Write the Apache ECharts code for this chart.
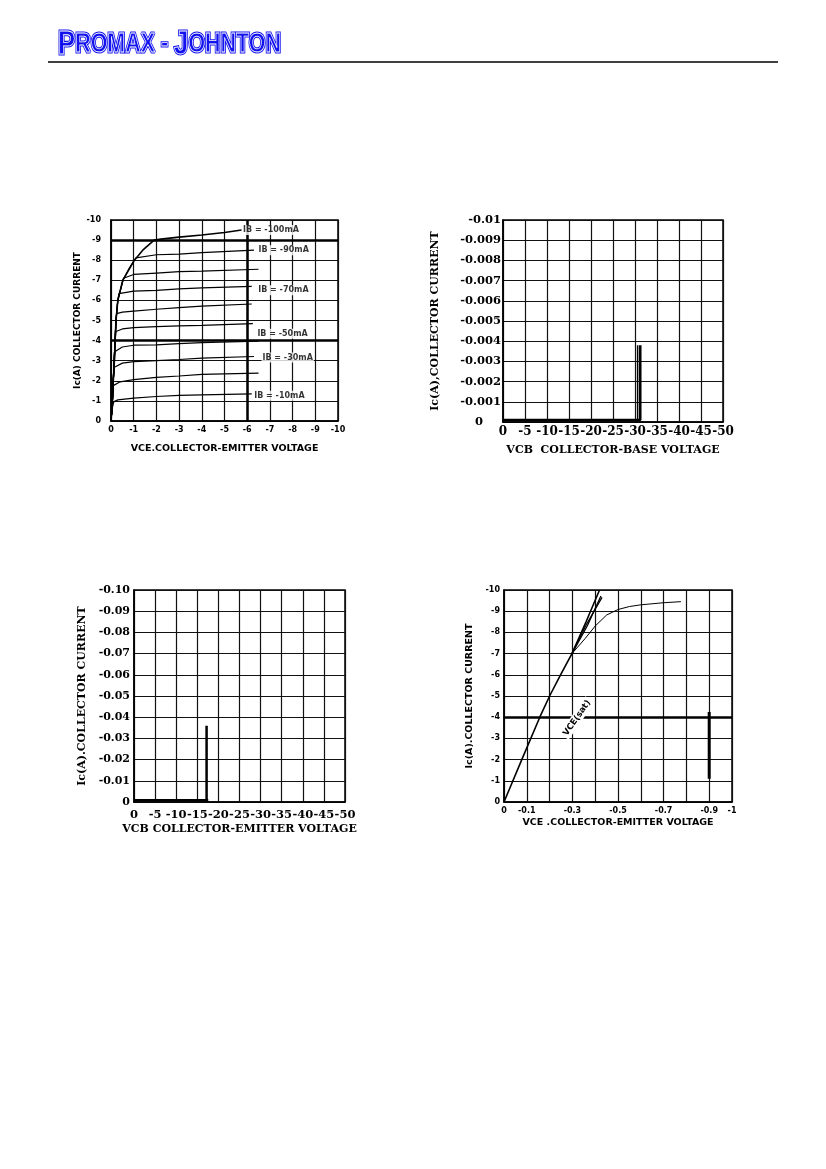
<!DOCTYPE html>
<html>
<head>
<meta charset="utf-8">
<script src="https://cdn.jsdelivr.net/npm/echarts@6/dist/echarts.min.js"></script>
<style>
  html, body { margin: 0; padding: 0; background: #fff; }
  #main { width: 826px; height: 1169px; }
</style>
</head>
<body>
<div id="main"></div>
<script>
/** 图1：输出特性 Ic - Vce，各 IB 曲线 */
const ibLabels = ['IB = -10mA', '', 'IB = -30mA', '', 'IB = -50mA', '', 'IB = -70mA', '', 'IB = -90mA', 'IB = -100mA']
const ib10 = [[0, 0], [-0.05, -0.6], [-0.12, -0.95], [-0.3, -1.05], [-1, -1.14], [-2, -1.22], [-3, -1.27], [-4, -1.3], [-6.2, -1.35]]
const ib20 = [[0, 0], [-0.05, -0.7], [-0.1, -1.76], [-0.4, -1.95], [-1, -2.06], [-2, -2.17], [-3, -2.24], [-4, -2.32], [-6.5, -2.38]]
const ib30 = [[0, 0], [-0.05, -0.7], [-0.1, -2], [-0.15, -2.67], [-0.5, -2.88], [-1, -2.95], [-2, -3.0], [-3, -3.06], [-4, -3.13], [-6.3, -3.21]]
const ib40 = [[0, 0], [-0.05, -0.7], [-0.1, -2], [-0.15, -3], [-0.18, -3.46], [-0.5, -3.68], [-1, -3.77], [-2, -3.79], [-3, -3.85], [-4, -3.9], [-6.5, -3.97]]
const ib50 = [[0, 0], [-0.05, -0.7], [-0.1, -2], [-0.18, -4], [-0.22, -4.45], [-0.5, -4.58], [-1, -4.65], [-2, -4.7], [-3, -4.73], [-4, -4.76], [-6.25, -4.84]]
const ib60 = [[0, 0], [-0.05, -0.7], [-0.1, -2], [-0.18, -4], [-0.22, -5], [-0.25, -5.34], [-0.5, -5.42], [-1, -5.47], [-2, -5.56], [-3, -5.64], [-4, -5.72], [-6.2, -5.82]]
const ib70 = [[0, 0], [-0.05, -0.7], [-0.1, -2], [-0.18, -4], [-0.22, -5], [-0.3, -6], [-0.35, -6.34], [-1, -6.46], [-2, -6.5], [-3, -6.57], [-4, -6.62], [-6.2, -6.7]]
const ib80 = [[0, 0], [-0.05, -0.7], [-0.1, -2], [-0.18, -4], [-0.22, -5], [-0.3, -6], [-0.55, -7.1], [-1, -7.29], [-2, -7.36], [-3, -7.43], [-4, -7.46], [-6.5, -7.55]]
const ib90 = [[0, 0], [-0.05, -0.7], [-0.1, -2], [-0.18, -4], [-0.22, -5], [-0.3, -6], [-0.52, -7], [-0.8, -7.6], [-1.1, -8.12], [-2, -8.27], [-3, -8.3], [-4, -8.38], [-6.3, -8.5]]
const ib100 = [[0, 0], [-0.05, -0.7], [-0.08, -1.5], [-0.1, -2], [-0.15, -3], [-0.18, -4], [-0.22, -5], [-0.3, -6], [-0.52, -7], [-1.03, -8], [-1.4, -8.5], [-1.9, -9], [-2.2, -9.05], [-3, -9.15], [-4, -9.25], [-5, -9.38], [-5.75, -9.5]]
const heavyY1 = [-9, -4]
const heavyX1 = [-6]
const xLabels1 = ['0', '-1', '-2', '-3', '-4', '-5', '-6', '-7', '-8', '-9', '-10']
const yLabels1 = ['0', '-1', '-2', '-3', '-4', '-5', '-6', '-7', '-8', '-9', '-10']

/** 图2：Icbo - Vcb */
const cbLow = [[0, -0.0001], [-31.2, -0.0001], [-31.2, -0.0038]]
const cbEdge = [[-30.6, -0.0001], [-30.6, -0.0038]]
const xLabels2 = ['0', '-5', '-10', '-15', '-20', '-25', '-30', '-35', '-40', '-45', '-50']
const yLabels2 = ['0', '-0.001', '-0.002', '-0.003', '-0.004', '-0.005', '-0.006', '-0.007', '-0.008', '-0.009', '-0.01']

/** 图3：Iceo - Vce */
const ceLow = [[0, -0.0008], [-17.6, -0.0008]]
const ceRise = [[-17.2, -0.0008], [-17.2, -0.036]]
const xLabels3 = ['0', '-5', '-10', '-15', '-20', '-25', '-30', '-35', '-40', '-45', '-50']
const yLabels3 = ['0', '-0.01', '-0.02', '-0.03', '-0.04', '-0.05', '-0.06', '-0.07', '-0.08', '-0.09', '-0.10']

/** 图4：Vce(sat) */
const satMain = [[0, 0], [-0.078, -2], [-0.157, -4], [-0.2, -5], [-0.248, -6], [-0.298, -7], [-0.36, -8.5], [-0.419, -10]]
const satB = [[-0.298, -7], [-0.36, -8.35], [-0.43, -9.65]]
const satC = [[-0.298, -7], [-0.365, -8.3], [-0.425, -9.72]]
const satKnee = [[-0.298, -7], [-0.355, -7.7], [-0.4, -8.3], [-0.45, -8.82], [-0.5, -9.08], [-0.55, -9.22], [-0.6, -9.3], [-0.7, -9.4], [-0.776, -9.45]]
const heavyY4 = [-4]
const heavySeg4 = [[-0.9, -1.1], [-0.9, -4.25]]
const xLabels4 = ['0', '-0.1', '', '-0.3', '', '-0.5', '', '-0.7', '', '-0.9', '-1']
const yLabels4 = ['0', '-1', '-2', '-3', '-4', '-5', '-6', '-7', '-8', '-9', '-10']

const SANS = 'DejaVu Sans'
const SERIF = 'DejaVu Serif'
const LOGO = 'Liberation Sans'

function axis(gridIndex, min, interval, labels, o) {
  return {
    type: 'value',
    gridIndex,
    min,
    max: 0,
    interval,
    inverse: true,
    name: o.name,
    nameLocation: 'middle',
    nameGap: o.nameGap,
    nameTextStyle: { fontFamily: o.font, fontWeight: 'bold', fontSize: o.nameSize, color: '#000' },
    axisLine: { show: true, onZero: false, lineStyle: { color: '#000', width: 1.5 } },
    axisTick: { show: false },
    splitLine: { show: true, lineStyle: { color: '#111', width: 1.2 } },
    axisLabel: {
      margin: o.margin,
      fontFamily: o.font,
      fontWeight: 'bold',
      fontSize: o.size,
      color: '#000',
      showMinLabel: true,
      showMaxLabel: true,
      hideOverlap: false,
      formatter: (v) => {
        const t = labels[Math.round(v / -interval)] || ''
        return o.zeroPad && t === '0' ? '{z|0}' : t
      },
      rich: { z: { fontFamily: o.font, fontWeight: 'bold', fontSize: o.size, padding: [0, o.zeroPad || 0, 0, 0] } }
    }
  }
}

function curve(idx, data, width) {
  return {
    type: 'line',
    xAxisIndex: idx,
    yAxisIndex: idx,
    data,
    symbol: 'none',
    silent: true,
    lineStyle: { color: '#000', width }
  }
}

function heavyLines(ys, xs) {
  return {
    silent: true,
    symbol: 'none',
    label: { show: false },
    lineStyle: { color: '#000', width: 2.5, type: 'solid' },
    data: ys.map(v => ({ yAxis: v })).concat(xs.map(v => ({ xAxis: v })))
  }
}

const ibCurves = [ib10, ib20, ib30, ib40, ib50, ib60, ib70, ib80, ib90, ib100]
const ibSeries = ibCurves.map((d, i) => curve(0, d, i === 9 ? 1.6 : 1.2))
ibSeries[0].markLine = heavyLines(heavyY1, heavyX1)

// 曲线末端的 IB 标注
const labelShift = { 0: [-1, 2], 2: [5, 1], 4: [1, 10], 6: [3, 4], 8: [1, 0], 9: [-2, 0] }
const ibTags = {
  type: 'scatter',
  xAxisIndex: 0,
  yAxisIndex: 0,
  symbolSize: 1,
  silent: true,
  z: 5,
  itemStyle: { color: 'transparent' },
  label: {
    show: true,
    position: 'right',
    distance: 2,
    fontFamily: SANS,
    fontWeight: 'bold',
    fontSize: 8,
    color: '#000',
    backgroundColor: '#fff',
    padding: [1, 1]
  },
  data: ibCurves.map((d, i) => ibLabels[i]
    ? { value: d[d.length - 1], label: { formatter: ibLabels[i], offset: labelShift[i] } }
    : null).filter(Boolean)
}

const sat = curve(3, satMain, 1.6)
sat.markLine = heavyLines(heavyY4, [])

const logoText = '{a|P}{b|ROMAX - }{a|J}{b|OHNTON}'
function logoLayer(fill, stroke, lw) {
  const st = (size) => ({ fontFamily: LOGO, fontWeight: 'bold', fontSize: size, fill, stroke, lineWidth: lw })
  return {
    type: 'text',
    x: 58,
    y: 28,
    scaleX: 0.78,
    style: { text: logoText, fill, stroke, lineWidth: lw, rich: { a: st(33), b: st(27.5) } }
  }
}

const option = {
  animation: false,
  grid: [
    { left: 111, top: 220, width: 227, height: 201, show: true, borderColor: '#000', borderWidth: 1.5 },
    { left: 503, top: 220, width: 220, height: 202, show: true, borderColor: '#000', borderWidth: 1.5 },
    { left: 134, top: 590, width: 211, height: 212, show: true, borderColor: '#000', borderWidth: 1.5 },
    { left: 504, top: 590, width: 228, height: 212, show: true, borderColor: '#000', borderWidth: 1.5 }
  ],
  xAxis: [
    axis(0, -10, 1, xLabels1, { name: 'VCE.COLLECTOR-EMITTER VOLTAGE', nameGap: 23, nameSize: 9.5, font: SANS, size: 8, margin: 5 }),
    axis(1, -50, 5, xLabels2, { name: 'VCB  COLLECTOR-BASE VOLTAGE', nameGap: 23, nameSize: 11, font: SERIF, size: 12, margin: 4 }),
    axis(2, -50, 5, xLabels3, { name: 'VCB COLLECTOR-EMITTER VOLTAGE', nameGap: 22, nameSize: 11, font: SERIF, size: 11.5, margin: 7 }),
    axis(3, -1, 0.1, xLabels4, { name: 'VCE .COLLECTOR-EMITTER VOLTAGE', nameGap: 16, nameSize: 9.5, font: SANS, size: 8, margin: 5 })
  ],
  yAxis: [
    axis(0, -10, 1, yLabels1, { name: 'Ic(A) COLLECTOR CURRENT', nameGap: 27, nameSize: 9, font: SANS, size: 8, margin: 10 }),
    axis(1, -0.01, 0.001, yLabels2, { name: 'Ic(A),COLLECTOR CURRENT', nameGap: 62, nameSize: 11, font: SERIF, size: 11.5, margin: 2, zeroPad: 18 }),
    axis(2, -0.1, 0.01, yLabels3, { name: 'Ic(A).COLLECTOR CURRENT', nameGap: 46, nameSize: 11, font: SERIF, size: 11, margin: 4 }),
    axis(3, -10, 1, yLabels4, { name: 'Ic(A).COLLECTOR CURRENT', nameGap: 29, nameSize: 9.5, font: SANS, size: 8, margin: 4 })
  ],
  graphic: [
    {
      type: 'line',
      shape: { x1: 48, y1: 62, x2: 778, y2: 62 },
      style: { stroke: '#000', lineWidth: 1.5 }
    },
    logoLayer('#1212ee', '#1212ee', 3),
    logoLayer('transparent', '#fff', 0.8),
    {
      type: 'text',
      x: 577,
      y: 718,
      rotation: 55 * Math.PI / 180,
      z: 100,
      style: {
        text: 'VCE(sat)',
        fontFamily: SANS,
        fontWeight: 'bold',
        fontSize: 8.5,
        fill: '#000',
        align: 'center',
        verticalAlign: 'middle',
        backgroundColor: '#fff',
        padding: [1, 2]
      }
    }
  ],
  series: ibSeries.concat([
    ibTags,
    curve(1, cbLow, 2.5),
    curve(1, cbEdge, 1.5),
    curve(2, ceLow, 2.5),
    curve(2, ceRise, 2.5),
    sat,
    curve(3, satB, 1.3),
    curve(3, satC, 1.3),
    curve(3, satKnee, 1),
    curve(3, heavySeg4, 3)
  ])
}

const myChart = echarts.init(document.getElementById('main'))
myChart.setOption(option)
</script>
</body>
</html>
